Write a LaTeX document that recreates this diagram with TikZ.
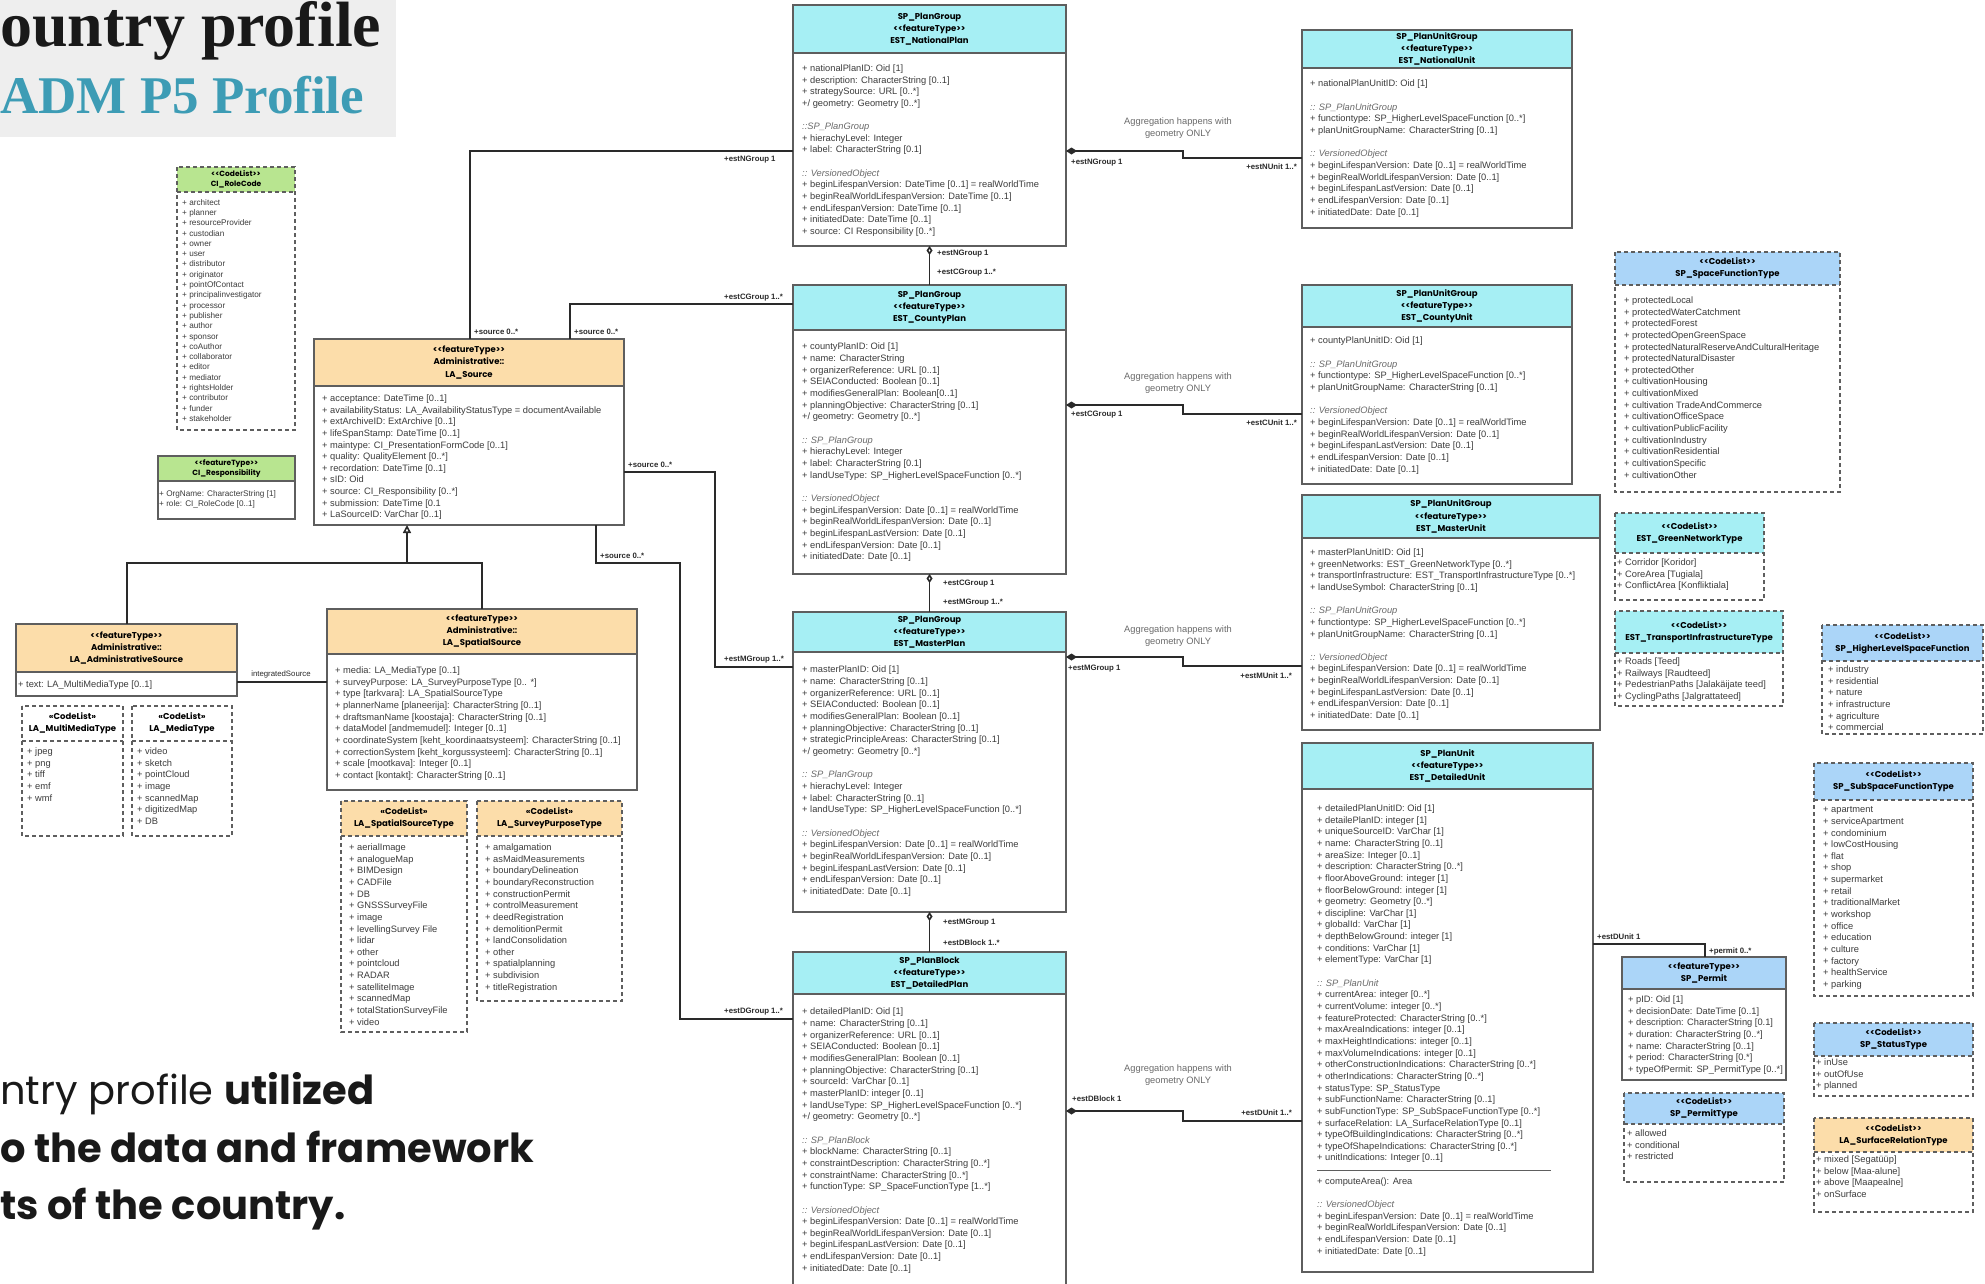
\documentclass[tikz,border=0pt]{standalone}
\usepackage{fontspec}
\setmainfont{Liberation Sans}
\newfontfamily\popfont{Poppins}
\newfontfamily\slabfont{Liberation Serif}
\usetikzlibrary{arrows.meta}

\definecolor{cplan}{HTML}{A6EFF4}
\definecolor{corange}{HTML}{FCDDAA}
\definecolor{cgreen}{HTML}{B8E590}
\definecolor{cblue}{HTML}{ABD5F8}
\definecolor{framec}{HTML}{5E5E5E}
\definecolor{txt}{HTML}{3C3C3C}
\definecolor{secgray}{HTML}{6A6A6A}
\definecolor{cline}{HTML}{2A2A2A}
\definecolor{titlebg}{HTML}{EEEEEE}
\definecolor{titleteal}{HTML}{3D9CB5}

% fonts for headers and compartments
\newcommand\hdf{\popfont\bfseries\fontsize{8.5}{12.2}\selectfont}
\newcommand\hds{\popfont\bfseries\fontsize{7.5}{10.2}\selectfont}
\newcommand\bdf{\fontsize{9.3}{11.65}\selectfont}
\newcommand\bds{\fontsize{8.2}{10.3}\selectfont}
\newcommand\hfnt{\hdf}
\newcommand\bfnt{\bdf}
\newcommand\grp[1]{{\itshape\color{secgray}#1}}
\newcommand\blank{\\[11.65pt]}
\newcommand\st[1]{\textless\kern0pt\textless#1\textgreater\kern0pt\textgreater}
\newcommand\bx{8}
\newcommand\bd{11}

\tikzset{
  boxline/.style={draw=framec, line width=1.3pt},
  dashbox/.style={dash pattern=on 4pt off 3pt},
  hdtext/.style={inner sep=0pt, align=center, font=\hfnt, text=black},
  bodytext/.style={inner sep=0pt, anchor=north west, align=left, font=\bfnt, text=txt},
  conn/.style={draw=cline, line width=1.6pt},
  lbl/.style={inner sep=0pt, font=\fontsize{7.8}{8.5}\selectfont\bfseries, text=cline},
  note/.style={inner sep=0pt, align=center, font=\fontsize{9.3}{12}\selectfont, text=secgray},
}

% class box: name, x1, y1, x2, y2, header bottom, header style, header, body
\newcommand\umlbox[9]{%
  \fill[#7] (#2,#3) rectangle (#4,#6);
  \draw[boxline,#7,fill=none] (#2,#3) rectangle (#4,#5);
  \draw[boxline,#7,fill=none] (#2,#6) -- (#4,#6);
  \node[inner sep=0pt,outer sep=0pt,minimum width={(#4-#2)*1pt},minimum height={(#5-#3)*1pt},anchor=north west] (#1) at (#2,#3) {};
  \node[hdtext] (#1-h) at ({(#2+#4)/2},{(#3+#6)/2}) {#8};
  \node[bodytext] (#1-b) at ({#2+\bx},{#6+\bd}) {#9};
}

\catcode`\_=12

\begin{document}
\begin{tikzpicture}[x=1pt,y=-1pt]
\useasboundingbox (0,0) rectangle (1985,1283);
\clip (0,0) rectangle (1985,1283);
\fill[white] (0,0) rectangle (1985,1283);

% ---------- title block ----------
\fill[titlebg] (0,0) rectangle (396,137);
\node[anchor=base west, inner sep=0pt, font=\slabfont\bfseries\fontsize{64}{64}\selectfont, text=black!90] (ttl1) at (0,46) {ountry profile};
\node[anchor=base west, inner sep=0pt, font=\slabfont\bfseries\fontsize{53}{53}\selectfont, text=titleteal] (ttl2) at (0,113) {ADM P5 Profile};

% ---------- closing text ----------
\node[anchor=base west, inner sep=0pt, font=\popfont\fontsize{40}{40}\selectfont, text=black!90] (cap1) at (0,1104) {ntry profile \textbf{utilized}};
\node[anchor=base west, inner sep=0pt, font=\popfont\bfseries\fontsize{40}{40}\selectfont, text=black!90] (cap2) at (0,1162) {o the data and framework};
\node[anchor=base west, inner sep=0pt, font=\popfont\bfseries\fontsize{40}{40}\selectfont, text=black!90] (cap3) at (0,1219) {ts of the country.};

% ---------- plan groups ----------
\renewcommand\bx{9}\renewcommand\bd{11.5}
\umlbox{np}{793}{5}{1066}{246}{53}{fill=cplan}{SP_PlanGroup\\\st{featureType}\\EST_NationalPlan}{%
+ nationalPlanID: Oid [1]\\
+ description: CharacterString [0..1]\\
+ strategySource: URL [0..*]\\
+/ geometry: Geometry [0..*]\blank
\grp{::SP_PlanGroup}\\
+ hierachyLevel: Integer\\
+ label: CharacterString [0.1]\blank
\grp{:: VersionedObject}\\
+ beginLifespanVersion: DateTime [0..1] = realWorldTime\\
+ beginRealWorldLifespanVersion: DateTime [0..1]\\
+ endLifespanVersion: DateTime [0..1]\\
+ initiatedDate: DateTime [0..1]\\
+ source: CI Responsibility [0..*]}

\renewcommand\bd{13}
\umlbox{cp}{793}{285}{1066}{574}{330}{fill=cplan}{SP_PlanGroup\\\st{featureType}\\EST_CountyPlan}{%
+ countyPlanID: Oid [1]\\
+ name: CharacterString\\
+ organizerReference: URL [0..1]\\
+ SEIAConducted: Boolean [0..1]\\
+ modifiesGeneralPlan: Boolean[0..1]\\
+ planningObjective: CharacterString [0..1]\\
+/ geometry: Geometry [0..*]\blank
\grp{:: SP_PlanGroup}\\
+ hierachyLevel: Integer\\
+ label: CharacterString [0.1]\\
+ landUseType: SP_HigherLevelSpaceFunction [0..*]\blank
\grp{:: VersionedObject}\\
+ beginLifespanVersion: Date [0..1] = realWorldTime\\
+ beginRealWorldLifespanVersion: Date [0..1]\\
+ beginLifespanLastVersion: Date [0..1]\\
+ endLifespanVersion: Date [0..1]\\
+ initiatedDate: Date [0..1]}

\renewcommand\bd{14}
\umlbox{mp}{793}{612}{1066}{912}{652}{fill=cplan}{SP_PlanGroup\\\st{featureType}\\EST_MasterPlan}{%
+ masterPlanID: Oid [1]\\
+ name: CharacterString [0..1]\\
+ organizerReference: URL [0..1]\\
+ SEIAConducted: Boolean [0..1]\\
+ modifiesGeneralPlan: Boolean [0..1]\\
+ planningObjective: CharacterString [0..1]\\
+ strategicPrincipleAreas: CharacterString [0..1]\\
+/ geometry: Geometry [0..*]\blank
\grp{:: SP_PlanGroup}\\
+ hierachyLevel: Integer\\
+ label: CharacterString [0..1]\\
+ landUseType: SP_HigherLevelSpaceFunction [0..*]\blank
\grp{:: VersionedObject}\\
+ beginLifespanVersion: Date [0..1] = realWorldTime\\
+ beginRealWorldLifespanVersion: Date [0..1]\\
+ beginLifespanLastVersion: Date [0..1]\\
+ endLifespanVersion: Date [0..1]\\
+ initiatedDate: Date [0..1]}

\umlbox{dp}{793}{952}{1066}{1300}{994}{fill=cplan}{SP_PlanBlock\\\st{featureType}\\EST_DetailedPlan}{%
+ detailedPlanID: Oid [1]\\
+ name: CharacterString [0..1]\\
+ organizerReference: URL [0..1]\\
+ SEIAConducted: Boolean [0..1]\\
+ modifiesGeneralPlan: Boolean [0..1]\\
+ planningObjective: CharacterString [0..1]\\
+ sourceId: VarChar [0..1]\\
+ masterPlanID: integer [0..1]\\
+ landUseType: SP_HigherLevelSpaceFunction [0..*]\\
+/ geometry: Geometry [0..*]\blank
\grp{:: SP_PlanBlock}\\
+ blockName: CharacterString [0..1]\\
+ constraintDescription: CharacterString [0..*]\\
+ constraintName: CharacterString [0..*]\\
+ functionType: SP_SpaceFunctionType [1..*]\blank
\grp{:: VersionedObject}\\
+ beginLifespanVersion: Date [0..1] = realWorldTime\\
+ beginRealWorldLifespanVersion: Date [0..1]\\
+ beginLifespanLastVersion: Date [0..1]\\
+ endLifespanVersion: Date [0..1]\\
+ initiatedDate: Date [0..1]}

% ---------- plan units ----------
\renewcommand\bx{8}\renewcommand\bd{12}
\umlbox{nu}{1302}{30}{1572}{228}{68}{fill=cplan}{SP_PlanUnitGroup\\\st{featureType}\\EST_NationalUnit}{%
+ nationalPlanUnitID: Oid [1]\blank
\grp{:: SP_PlanUnitGroup}\\
+ functiontype: SP_HigherLevelSpaceFunction [0..*]\\
+ planUnitGroupName: CharacterString [0..1]\blank
\grp{:: VersionedObject}\\
+ beginLifespanVersion: Date [0..1] = realWorldTime\\
+ beginRealWorldLifespanVersion: Date [0..1]\\
+ beginLifespanLastVersion: Date [0..1]\\
+ endLifespanVersion: Date [0..1]\\
+ initiatedDate: Date [0..1]}

\renewcommand\bd{10}
\umlbox{cu}{1302}{285}{1572}{484}{327}{fill=cplan}{SP_PlanUnitGroup\\\st{featureType}\\EST_CountyUnit}{%
+ countyPlanUnitID: Oid [1]\blank
\grp{:: SP_PlanUnitGroup}\\
+ functiontype: SP_HigherLevelSpaceFunction [0..*]\\
+ planUnitGroupName: CharacterString [0..1]\blank
\grp{:: VersionedObject}\\
+ beginLifespanVersion: Date [0..1] = realWorldTime\\
+ beginRealWorldLifespanVersion: Date [0..1]\\
+ beginLifespanLastVersion: Date [0..1]\\
+ endLifespanVersion: Date [0..1]\\
+ initiatedDate: Date [0..1]}

\renewcommand\bd{10.5}
\umlbox{mu}{1302}{495}{1600}{730}{538}{fill=cplan}{SP_PlanUnitGroup\\\st{featureType}\\EST_MasterUnit}{%
+ masterPlanUnitID: Oid [1]\\
+ greenNetworks: EST_GreenNetworkType [0..*]\\
+ transportInfrastructure: EST_TransportInfrastructureType [0..*]\\
+ landUseSymbol: CharacterString [0..1]\blank
\grp{:: SP_PlanUnitGroup}\\
+ functiontype: SP_HigherLevelSpaceFunction [0..*]\\
+ planUnitGroupName: CharacterString [0..1]\blank
\grp{:: VersionedObject}\\
+ beginLifespanVersion: Date [0..1] = realWorldTime\\
+ beginRealWorldLifespanVersion: Date [0..1]\\
+ beginLifespanLastVersion: Date [0..1]\\
+ endLifespanVersion: Date [0..1]\\
+ initiatedDate: Date [0..1]}

\renewcommand\bx{15}\renewcommand\bd{15.5}
\umlbox{du}{1302}{743}{1593}{1272}{789}{fill=cplan}{SP_PlanUnit\\\st{featureType}\\EST_DetailedUnit}{%
+ detailedPlanUnitID: Oid [1]\\
+ detailePlanID: integer [1]\\
+ uniqueSourceID: VarChar [1]\\
+ name: CharacterString [0..1]\\
+ areaSize: Integer [0..1]\\
+ description: CharacterString [0..*]\\
+ floorAboveGround: integer [1]\\
+ floorBelowGround: integer [1]\\
+ geometry: Geometry [0..*]\\
+ discipline: VarChar [1]\\
+ globalId: VarChar [1]\\
+ depthBelowGround: integer [1]\\
+ conditions: VarChar [1]\\
+ elementType: VarChar [1]\blank
\grp{:: SP_PlanUnit}\\
+ currentArea: integer [0..*]\\
+ currentVolume: integer [0..*]\\
+ featureProtected: CharacterString [0..*]\\
+ maxAreaIndications: integer [0..1]\\
+ maxHeightIndications: integer [0..1]\\
+ maxVolumeIndications: integer [0..1]\\
+ otherConstructionIndications: CharacterString [0..*]\\
+ otherIndications: CharacterString [0..*]\\
+ statusType: SP_StatusType\\
+ subFunctionName: CharacterString [0..1]\\
+ subFunctionType: SP_SubSpaceFunctionType [0..*]\\
+ surfaceRelation: LA_SurfaceRelationType [0..1]\\
+ typeOfBuildingIndications: CharacterString [0..*]\\
+ typeOfShapeIndications: CharacterString [0..*]\\
+ unitIndications: Integer [0..1]\blank
+ computeArea(): Area\blank
\grp{:: VersionedObject}\\
+ beginLifespanVersion: Date [0..1] = realWorldTime\\
+ beginRealWorldLifespanVersion: Date [0..1]\\
+ endLifespanVersion: Date [0..1]\\
+ initiatedDate: Date [0..1]}
\draw[draw=framec, line width=0.8pt] (1317,1170) -- (1551,1170);

% ---------- code lists, right column ----------
\renewcommand\bx{9}\renewcommand\bd{11.5}
\umlbox{sft}{1615}{252}{1840}{492}{285}{fill=cblue,dashbox}{\st{CodeList}\\SP_SpaceFunctionType}{%
+ protectedLocal\\ + protectedWaterCatchment\\ + protectedForest\\ + protectedOpenGreenSpace\\
+ protectedNaturalReserveAndCulturalHeritage\\ + protectedNaturalDisaster\\ + protectedOther\\
+ cultivationHousing\\ + cultivationMixed\\ + cultivation TradeAndCommerce\\ + cultivationOfficeSpace\\
+ cultivationPublicFacility\\ + cultivationIndustry\\ + cultivationResidential\\ + cultivationSpecific\\
+ cultivationOther}

\renewcommand\bx{2}\renewcommand\bd{5.5}
\umlbox{gnt}{1615}{513}{1764}{600}{553}{fill=cplan,dashbox}{\st{CodeList}\\EST_GreenNetworkType}{%
+ Corridor [Koridor]\\ + CoreArea [Tugiala]\\ + ConflictArea [Konfliktiala]}

\renewcommand\bd{4.5}
\umlbox{tit}{1615}{611}{1783}{706}{653}{fill=cplan,dashbox}{\st{CodeList}\\EST_TransportInfrastructureType}{%
+ Roads [Teed]\\ + Railways [Raudteed]\\ + PedestrianPaths [Jalakäijate teed]\\ + CyclingPaths [Jalgrattateed]}

\renewcommand\bx{6}\renewcommand\bd{4.5}
\umlbox{hls}{1822}{625}{1983}{734}{661}{fill=cblue,dashbox}{\st{CodeList}\\SP_HigherLevelSpaceFunction}{%
+ industry\\ + residential\\ + nature\\ + infrastructure\\ + agriculture\\ + commercial}

\renewcommand\bx{9}\renewcommand\bd{6.5}
\umlbox{ssf}{1814}{763}{1973}{996}{800}{fill=cblue,dashbox}{\st{CodeList}\\SP_SubSpaceFunctionType}{%
+ apartment\\ + serviceApartment\\ + condominium\\ + lowCostHousing\\ + flat\\ + shop\\ + supermarket\\
+ retail\\ + traditionalMarket\\ + workshop\\ + office\\ + education\\ + culture\\ + factory\\
+ healthService\\ + parking}

\renewcommand\bx{6}\renewcommand\bd{6.5}
\umlbox{pm}{1622}{957}{1786}{1080}{989}{fill=cblue}{\st{featureType}\\SP_Permit}{%
+ pID: Oid [1]\\ + decisionDate: DateTime [0..1]\\ + description: CharacterString [0.1]\\
+ duration: CharacterString [0..*]\\ + name: CharacterString [0..1]\\ + period: CharacterString [0.*]\\
+ typeOfPermit: SP_PermitType [0..*]}

\renewcommand\bx{3}\renewcommand\bd{5.5}
\umlbox{pmt}{1624}{1093}{1784}{1182}{1124}{fill=cblue,dashbox}{\st{CodeList}\\SP_PermitType}{%
+ allowed\\ + conditional\\ + restricted}

\renewcommand\bx{2}\renewcommand\bd{2.5}
\umlbox{stt}{1814}{1023}{1973}{1096}{1056}{fill=cblue,dashbox}{\st{CodeList}\\SP_StatusType}{%
+ inUse\\ + outOfUse\\ + planned}

\renewcommand\bd{3.5}
\umlbox{srt}{1814}{1118}{1973}{1212}{1152}{fill=corange,dashbox}{\st{CodeList}\\LA_SurfaceRelationType}{%
+ mixed [Segatüüp]\\ + below [Maa-alune]\\ + above [Maapealne]\\ + onSurface}

% ---------- sources, left side ----------
\renewcommand\bx{8}\renewcommand\bd{8.5}
\umlbox{ls}{314}{339}{624}{525}{386}{fill=corange}{\st{featureType}\\Administrative::\\LA_Source}{%
+ acceptance: DateTime [0..1]\\
+ availabilityStatus: LA_AvailabilityStatusType = documentAvailable\\
+ extArchiveID: ExtArchive [0..1]\\
+ lifeSpanStamp: DateTime [0..1]\\
+ maintype: CI_PresentationFormCode [0..1]\\
+ quality: QualityElement [0..*]\\
+ recordation: DateTime [0..1]\\
+ sID: Oid\\
+ source: CI_Responsibility [0..*]\\
+ submission: DateTime [0.1\\
+ LaSourceID: VarChar [0..1]}

\renewcommand\bx{2}\renewcommand\bd{8.5}
\umlbox{as}{16}{624}{237}{696}{672}{fill=corange}{\st{featureType}\\Administrative::\\LA_AdministrativeSource}{%
+ text: LA_MultiMediaType [0..1]}

\renewcommand\bx{8}\renewcommand\bd{12.5}
\umlbox{ss}{327}{609}{637}{790}{654}{fill=corange}{\st{featureType}\\Administrative::\\LA_SpatialSource}{%
+ media: LA_MediaType [0..1]\\
+ surveyPurpose: LA_SurveyPurposeType [0.. *]\\
+ type [tarkvara]: LA_SpatialSourceType\\
+ plannerName [planeerija]: CharacterString [0..1]\\
+ draftsmanName [koostaja]: CharacterString [0..1]\\
+ dataModel [andmemudel]: Integer [0..1]\\
+ coordinateSystem [keht_koordinaatsysteem]: CharacterString [0..1]\\
+ correctionSystem [keht_korgussysteem]: CharacterString [0..1]\\
+ scale [mootkava]: Integer [0..1]\\
+ contact [kontakt]: CharacterString [0..1]}

\renewcommand\bx{5}\renewcommand\bd{6.5}
\umlbox{mmt}{22}{706}{123}{836}{741}{fill=white,dashbox}{«CodeList»\\LA_MultiMediaType}{%
+ jpeg\\ + png\\ + tiff\\ + emf\\ + wmf}
\umlbox{mdt}{132}{706}{232}{836}{741}{fill=white,dashbox}{«CodeList»\\LA_MediaType}{%
+ video\\ + sketch\\ + pointCloud\\ + image\\ + scannedMap\\ + digitizedMap\\ + DB}

\renewcommand\bx{8}\renewcommand\bd{7.5}
\umlbox{sst}{341}{801}{467}{1032}{836}{fill=corange,dashbox}{«CodeList»\\LA_SpatialSourceType}{%
+ aerialImage\\ + analogueMap\\ + BIMDesign\\ + CADFile\\ + DB\\ + GNSSSurveyFile\\ + image\\
+ levellingSurvey File\\ + lidar\\ + other\\ + pointcloud\\ + RADAR\\ + satelliteImage\\
+ scannedMap\\ + totalStationSurveyFile\\ + video}
\umlbox{spt}{477}{801}{622}{1001}{836}{fill=corange,dashbox}{«CodeList»\\LA_SurveyPurposeType}{%
+ amalgamation\\ + asMaidMeasurements\\ + boundaryDelineation\\ + boundaryReconstruction\\
+ constructionPermit\\ + controlMeasurement\\ + deedRegistration\\ + demolitionPermit\\
+ landConsolidation\\ + other\\ + spatialplanning\\ + subdivision\\ + titleRegistration}

% ---------- responsibility party ----------
\renewcommand\hfnt{\hds}\renewcommand\bfnt{\bds}
\renewcommand\bx{5}\renewcommand\bd{7}
\umlbox{rc}{177}{167}{295}{430}{192}{fill=cgreen,dashbox}{\st{CodeList}\\CI_RoleCode}{%
+ architect\\ + planner\\ + resourceProvider\\ + custodian\\ + owner\\ + user\\ + distributor\\
+ originator\\ + pointOfContact\\ + principalinvestigator\\ + processor\\ + publisher\\ + author\\
+ sponsor\\ + coAuthor\\ + collaborator\\ + editor\\ + mediator\\ + rightsHolder\\ + contributor\\
+ funder\\ + stakeholder}
\renewcommand\bx{1}\renewcommand\bd{9}
\umlbox{rsp}{158}{456}{295}{519}{481}{fill=cgreen}{\st{featureType}\\CI_Responsibility}{%
+ OrgName: CharacterString [1]\\ + role: CI_RoleCode [0..1]}

% ---------- associations to sources ----------
\draw[conn] (np.west |- 0,151) -| (ls.north -| 470,0);
\draw[conn] (cp.west |- 0,304) -| (ls.north -| 570,0);
\draw[conn] (ls.east |- 0,472) -- (715,472) -- (715,667) -- (mp.west |- 0,667);
\draw[conn] (ls.south -| 596,0) -- (596,563) -- (680,563) -- (680,1019) -- (dp.west |- 0,1019);
\node[lbl, anchor=north west] (l1) at (724,156) {+estNGroup 1};
\node[lbl, anchor=south west] (l2) at (724,301) {+estCGroup 1..*};
\node[lbl, anchor=south west] (l3) at (724,663) {+estMGroup 1..*};
\node[lbl, anchor=south west] (l4) at (724,1015) {+estDGroup 1..*};
\node[lbl, anchor=south west] (l5) at (474,335) {+source 0..*};
\node[lbl, anchor=south west] (l6) at (574,335) {+source 0..*};
\node[lbl, anchor=south west] (l7) at (628,468) {+source 0..*};
\node[lbl, anchor=south west] (l8) at (600,559) {+source 0..*};

% ---------- generalisation of sources ----------
\coordinate (gj) at (407,563);
\draw[conn, -{Triangle[open, length=8pt, width=8pt]}] (gj) -- (ls.south -| gj);
\draw[conn] (as.north -| 127,0) -- (127,563) -- (482,563) -- (ss.north -| 482,0);
\draw[conn] (as.east |- 0,682) -- (ss.west |- 0,682);
\node[lbl, anchor=south, font=\fontsize{7.8}{8.5}\selectfont] (l9) at (281,678) {integratedSource};

% ---------- plan hierarchy ----------
\draw[conn, {Diamond[open, length=9pt, width=6pt]}-] (np.south) -- (cp.north);
\draw[conn, {Diamond[open, length=9pt, width=6pt]}-] (cp.south) -- (mp.north);
\draw[conn, {Diamond[open, length=9pt, width=6pt]}-] (mp.south) -- (dp.north);
\node[lbl, anchor=west] (h1) at (937,254) {+estNGroup 1};
\node[lbl, anchor=west] (h2) at (937,273) {+estCGroup 1..*};
\node[lbl, anchor=west] (h3) at (943,584) {+estCGroup 1};
\node[lbl, anchor=west] (h4) at (943,603) {+estMGroup 1..*};
\node[lbl, anchor=west] (h5) at (943,923) {+estMGroup 1};
\node[lbl, anchor=west] (h6) at (943,943) {+estDBlock 1..*};

% ---------- plan / unit aggregations ----------
\draw[conn, {Diamond[length=11pt, width=7pt]}-] (np.east |- 0,151) -- (1183,151) -- (1183,158) -- (nu.west |- 0,158);
\draw[conn, {Diamond[length=11pt, width=7pt]}-] (cp.east |- 0,405) -- (1183,405) -- (1183,414) -- (cu.west |- 0,414);
\draw[conn, {Diamond[length=11pt, width=7pt]}-] (mp.east |- 0,657) -- (1183,657) -- (1183,666) -- (mu.west |- 0,666);
\draw[conn, {Diamond[length=11pt, width=7pt]}-] (dp.east |- 0,1111) -- (1183,1111) -- (1183,1121) -- (du.west |- 0,1121);
\node[note] (a1) at (1178,128) {Aggregation happens with\\geometry ONLY};
\node[note] (a2) at (1178,383) {Aggregation happens with\\geometry ONLY};
\node[note] (a3) at (1178,636) {Aggregation happens with\\geometry ONLY};
\node[note] (a4) at (1178,1075) {Aggregation happens with\\geometry ONLY};
\node[lbl, anchor=west] (g1) at (1071,163) {+estNGroup 1};
\node[lbl, anchor=east] (u1) at (1297,167) {+estNUnit 1..*};
\node[lbl, anchor=west] (g2) at (1071,415) {+estCGroup 1};
\node[lbl, anchor=east] (u2) at (1297,423) {+estCUnit 1..*};
\node[lbl, anchor=west] (g3) at (1068,669) {+estMGroup 1};
\node[lbl, anchor=east] (u3) at (1292,676) {+estMUnit 1..*};
\node[lbl, anchor=west] (g4) at (1072,1099) {+estDBlock 1};
\node[lbl, anchor=east] (u4) at (1292,1113) {+estDUnit 1..*};

% ---------- permit ----------
\draw[conn] (du.east |- 0,944) -| (pm.north -| 1705,0);
\node[lbl, anchor=south west] (p1) at (1597,940) {+estDUnit 1};
\node[lbl, anchor=west] (p2) at (1709,951) {+permit 0..*};

\end{tikzpicture}
\end{document}
